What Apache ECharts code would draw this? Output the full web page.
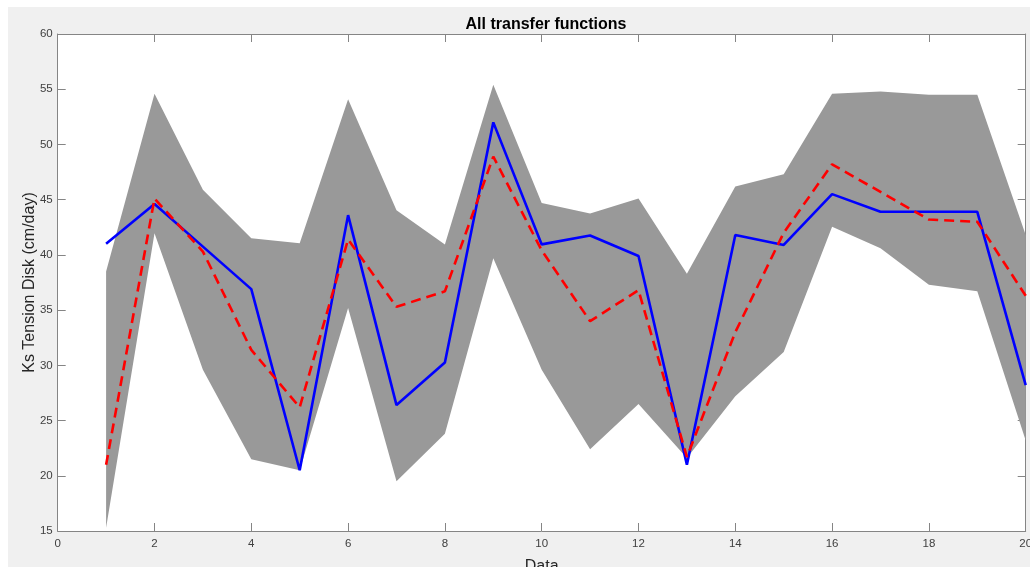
<!DOCTYPE html>
<html>
<head>
<meta charset="utf-8">
<script src="https://cdn.jsdelivr.net/npm/echarts@6/dist/echarts.min.js"></script>
<style>
html,body{margin:0;padding:0;background:#fff;}
#chart{width:1030px;height:567px;}
</style>
</head>
<body>
<div id="chart"></div>
<script>
// ---- data ----
const xValues = [1,2,3,4,5,6,7,8,9,10,11,12,13,14,15,16,17,18,19,20];
const bandUpper = [38.5,54.6,45.9,41.5,41.05,54.1,44.05,40.95,55.4,44.7,43.75,45.1,38.3,46.2,47.3,54.6,54.8,54.5,54.5,41.8];
const bandLower = [15.3,41.95,29.6,21.5,20.5,35.2,19.5,23.8,39.7,29.6,22.4,26.5,21.6,27.2,31.2,42.55,40.6,37.3,36.7,23.2];
const blueSeries = [41.0,44.6,40.75,36.9,20.5,43.6,26.4,30.25,52.0,40.95,41.75,39.9,21.0,41.8,40.9,45.5,43.9,43.9,43.9,28.2];
const redSeries = [21.0,45.1,40.3,31.4,26.2,41.4,35.3,36.7,48.9,40.4,34.0,36.8,21.7,33.0,42.0,48.2,45.7,43.2,43.0,36.3];
const xTicks = {min:0, max:20, interval:2};
const yTicks = {min:15, max:60, interval:5};

const pairs = (ys) => xValues.map((x,i) => [x, ys[i]]);

const chart = echarts.init(document.getElementById('chart'), null, {renderer:'canvas'});
const FONT = '"Liberation Sans", Arial, Helvetica, sans-serif';
const axisColor = '#858585';
const labelColor = '#404040';

const option = {
  backgroundColor: '#ffffff',
  animation: false,
  graphic: {
    elements: [{
      type: 'rect', left: 8, top: 7, z: -100, silent: true,
      shape: {width: 1022, height: 560},
      style: {fill: '#f0f0f0'}
    }]
  },
  title: {
    text: 'All transfer functions',
    left: 541, top: 12, textAlign: 'center',
    textStyle: {fontFamily: FONT, fontSize: 16, fontWeight: 'bold', color: '#000'}
  },
  grid: {
    left: 57.7, top: 34, right: 4.3, bottom: 36,
    outerBoundsMode: 'none', containLabel: false,
    show: true, backgroundColor: '#ffffff', borderWidth: 0
  },
  xAxis: [{
    type: 'value', min: xTicks.min, max: xTicks.max, interval: xTicks.interval,
    position: 'bottom',
    name: 'Data', nameLocation: 'middle', nameGap: 28, nameMoveOverlap: false,
    nameTextStyle: {fontFamily: FONT, fontSize: 16, color: '#262626'},
    axisLine: {show: true, onZero: false, lineStyle: {color: axisColor, width: 1}},
    axisTick: {show: true, inside: true, length: 8, lineStyle: {color: axisColor}},
    axisLabel: {margin: 7, fontFamily: FONT, fontSize: 11.5, color: labelColor, hideOverlap: false},
    splitLine: {show: false}
  }, {
    type: 'value', min: xTicks.min, max: xTicks.max, interval: xTicks.interval,
    position: 'top',
    axisLine: {show: true, onZero: false, lineStyle: {color: axisColor, width: 1}},
    axisTick: {show: true, inside: true, length: 8, lineStyle: {color: axisColor}},
    axisLabel: {show: false},
    splitLine: {show: false}
  }],
  yAxis: [{
    type: 'value', min: yTicks.min, max: yTicks.max, interval: yTicks.interval,
    position: 'left',
    name: 'Ks Tension Disk (cm/day)', nameLocation: 'middle', nameGap: 20, nameMoveOverlap: false,
    nameTextStyle: {fontFamily: FONT, fontSize: 16, color: '#262626'},
    axisLine: {show: true, onZero: false, lineStyle: {color: axisColor, width: 1}},
    axisTick: {show: true, inside: true, length: 8, lineStyle: {color: axisColor}},
    axisLabel: {margin: 5, fontFamily: FONT, fontSize: 11.5, color: labelColor},
    splitLine: {show: false}
  }, {
    type: 'value', min: yTicks.min, max: yTicks.max, interval: yTicks.interval,
    position: 'right',
    axisLine: {show: true, onZero: false, lineStyle: {color: axisColor, width: 1}},
    axisTick: {show: true, inside: true, length: 8, lineStyle: {color: axisColor}},
    axisLabel: {show: false},
    splitLine: {show: false}
  }],
  series: [{
    type: 'custom',
    xAxisIndex: 0, yAxisIndex: 0,
    data: [[xValues[0], bandUpper[0]]],
    encode: {x: 0, y: 1},
    z: 1,
    silent: true,
    renderItem: function (params, api) {
      const top = xValues.map((x,i) => api.coord([x, bandUpper[i]]));
      const bot = xValues.map((x,i) => api.coord([x, bandLower[i]])).reverse();
      return {
        type: 'polygon',
        shape: {points: top.concat(bot)},
        style: {fill: '#999999', stroke: null}
      };
    }
  }, {
    type: 'line',
    xAxisIndex: 0, yAxisIndex: 0,
    data: pairs(blueSeries),
    showSymbol: false, symbol: 'none',
    z: 3,
    lineStyle: {color: '#0000ff', width: 2.6}
  }, {
    type: 'line',
    xAxisIndex: 0, yAxisIndex: 0,
    data: pairs(redSeries),
    showSymbol: false, symbol: 'none',
    z: 4,
    lineStyle: {color: '#ff0000', width: 2.6, type: [10, 6]}
  }]
};
chart.setOption(option);
</script>
</body>
</html>
